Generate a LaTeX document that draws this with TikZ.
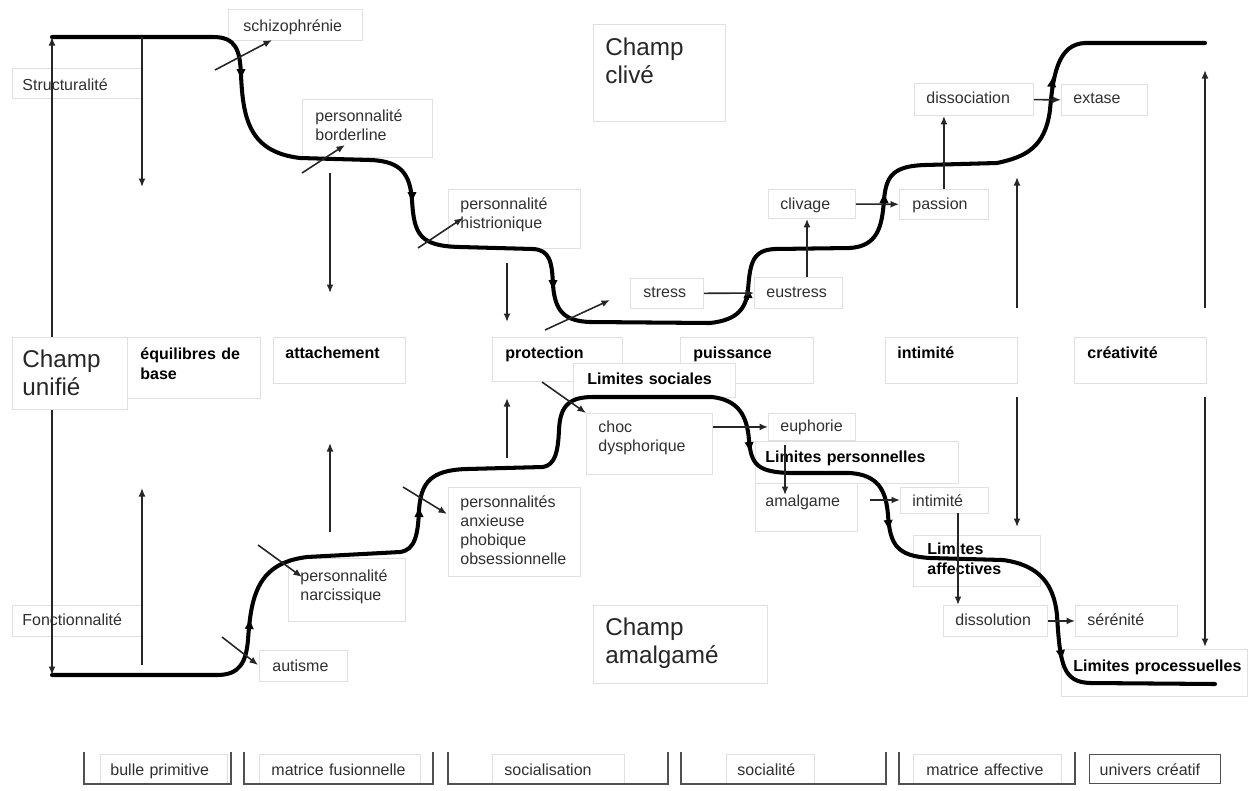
\documentclass[tikz,border=0pt]{standalone}
\usepackage{fontspec}
\setmainfont{Liberation Sans}
\usetikzlibrary{arrows.meta}
\hyphenpenalty=10000
\exhyphenpenalty=10000
\definecolor{edgegray}{HTML}{E0E0E0}
\definecolor{inkgray}{HTML}{303030}
\definecolor{framegray}{HTML}{505050}
\tikzset{
    labelbox/.style={rectangle, draw=edgegray, line width=0.5pt, fill=white, anchor=north west, inner ysep=0pt, align=left, text=inkgray, font=\fontsize{9.1}{10.8}\selectfont},
    boldbox/.style={labelbox, text=black, font=\fontsize{9.1}{11.2}\selectfont\bfseries},
    fieldbox/.style={labelbox, text=black!85, font=\fontsize{13.8}{15.9}\selectfont},
    geom/.style n args={4}{minimum width=#1*0.2mm, minimum height=#2*0.2mm, inner xsep=#3*0.2mm, text width=(#1-2*#3)*0.2mm, text height=#4*0.2mm, text depth=(#2-#4)*0.2mm},
    link/.style={draw=black!85, line width=0.9pt, -{Latex[length=1.7mm, width=1.4mm]}},
    trail/.style={draw=black, line width=2.3pt, line cap=round, line join=round},
    trailtip/.style={draw=black, line width=1pt, -{Latex[length=2.2mm, width=1.9mm]}},
    bracket/.style={draw=framegray, line width=1pt}
}

\begin{document}
\begin{tikzpicture}[x=0.2mm, y=-0.2mm]
\useasboundingbox (0,0) rectangle (1254,790);

% Champ clive (upper half)
\node (schizo) [labelbox, geom={134}{31}{15}{22}] at (228,9) {schizophrénie};
\node (structure) [labelbox, geom={130}{30}{10}{22}] at (12,68) {Structuralité};
\node (borderline) [labelbox, geom={130}{58}{13}{22}] at (302,99) {personnalité\\borderline};
\node (histrio) [labelbox, geom={132}{59}{12}{20}] at (448,189) {personnalité\\histrionique};
\node (clive) [fieldbox, geom={132}{97}{12}{31}] at (593,24) {Champ\\clivé};
\node (stress) [labelbox, geom={73}{30}{13}{19}] at (630,278) {stress};
\node (eustress) [labelbox, geom={88}{31}{12}{20}] at (754,277) {eustress};
\node (clivage) [labelbox, geom={87}{29}{12}{20}] at (768,189) {clivage};
\node (passion) [labelbox, geom={89}{30}{13}{20}] at (899,189) {passion};
\node (dissoc) [labelbox, geom={119}{32}{12}{20}] at (914,83) {dissociation};
\node (extase) [labelbox, geom={86}{31}{12}{19}] at (1061,84) {extase};

% Middle row: stages
\node (equil) [boldbox, geom={133}{61}{13}{22}] at (127,337) {équilibres~de\\base};
\node (unifie) [fieldbox, geom={115}{72}{10}{30}] at (12,337) {Champ\\unifié};
\node (attach) [boldbox, geom={132}{46}{12}{21}] at (273,337) {attachement};
\node (protect) [boldbox, geom={130}{44}{13}{21}] at (492,337) {protection};
\node (puiss) [boldbox, geom={133}{46}{13}{21}] at (680,337) {puissance};
\node (limsoc) [boldbox, geom={162}{34}{14}{21}] at (573,363) {Limites~sociales};
\node (intimb) [boldbox, geom={132}{46}{12}{21}] at (885,337) {intimité};
\node (creat) [boldbox, geom={132}{46}{13}{21}] at (1074,337) {créativité};

% Champ amalgame (lower half)
\node (choc) [labelbox, geom={126}{61}{12}{19}] at (586,413) {choc\\dysphorique};
\node (limpers) [boldbox, geom={203}{42}{10}{21}] at (755,441) {Limites~personnelles};
\node (amalg) [labelbox, geom={102}{48}{10}{23}] at (755,483) {amalgame};
\node (euph) [labelbox, geom={87}{27}{12}{18}] at (768,413) {euphorie};
\node (intims) [labelbox, geom={88}{26}{12}{19}] at (900,487) {intimité};
\node (limaff) [boldbox, geom={127}{51}{14}{19}] at (913,535) {Limites\\affectives};
\node (dissol) [labelbox, geom={104}{31}{12}{20}] at (943,605) {dissolution};
\node (seren) [labelbox, geom={102}{31}{12}{20}] at (1075,605) {sérénité};
\node (limproc) [boldbox, geom={186}{47}{12}{22}] at (1061,649) {Limites~processuelles};
\node (narc) [labelbox, geom={117}{63}{12}{23}] at (288,558) {personnalité\\narcissique};
\node (anx) [labelbox, geom={132}{89}{12}{20}] at (448,487) {personnalités\\anxieuse\\phobique\\obsessionnelle};
\node (amalgch) [fieldbox, geom={174}{78}{12}{30}] at (593,605) {Champ\\amalgamé};
\node (autism) [labelbox, geom={88}{31}{13}{21}] at (259,650) {autisme};
\node (fonct) [labelbox, geom={130}{31}{10}{20}] at (12,605) {Fonctionnalité};

% Phases along the bottom
\node (bulle) [labelbox, geom={127}{29}{10}{21}] at (100,754) {bulle~primitive};
\node (fusion) [labelbox, geom={161}{29}{12}{21}] at (259,754) {matrice~fusionnelle};
\node (social) [labelbox, geom={132}{29}{12}{21}] at (492,754) {socialisation};
\node (socialite) [labelbox, geom={88}{29}{11}{21}] at (726,754) {socialité};
\node (affect) [labelbox, geom={148}{29}{13}{21}] at (913,754) {matrice~affective};
\node (creatif) [labelbox, draw=framegray, line width=0.8pt, geom={131}{29}{10}{21}] at (1089,754) {univers~créatif};

\draw[bracket] (84,752) -- (84,784) -- (231,784) -- (231,752);
\draw[bracket] (244,752) -- (244,784) -- (433,784) -- (433,752);
\draw[bracket] (448,752) -- (448,784) -- (668,784) -- (668,752);
\draw[bracket] (681,752) -- (681,784) -- (886,784) -- (886,752);
\draw[bracket] (899,752) -- (899,784) -- (1075,784) -- (1075,752);

% Upper trail
\draw[trail] (52,37) -- (213,37)
    .. controls (236,37) and (240,50) .. (241,75)
    .. controls (243,120) and (250,152) .. (300,158)
    -- (370,160)
    .. controls (402,161) and (410,175) .. (412,200)
    .. controls (414,235) and (420,246) .. (460,247)
    -- (533,249)
    .. controls (550,250) and (552,262) .. (553,285)
    .. controls (555,312) and (565,321) .. (590,322)
    -- (710,323)
    .. controls (738,320) and (746,308) .. (748,290)
    .. controls (750,262) and (753,250) .. (775,249)
    -- (850,248)
    .. controls (877,246) and (882,228) .. (884,200)
    .. controls (886,176) and (893,166) .. (925,165)
    -- (997,163)
    .. controls (1025,157) and (1045,148) .. (1050,110)
    .. controls (1053,75) and (1058,44) .. (1085,43)
    -- (1205,43);
\draw[trailtip] (241,66) -- (241,80);
\draw[trailtip] (412,190) -- (412,203);
\draw[trailtip] (553,278) -- (553,291);
\draw[trailtip] (748,300) -- (748,287);
\draw[trailtip] (884,206) -- (884,192);
\draw[trailtip] (1051,92) -- (1053,76);

% Lower trail
\draw[trail] (52,675) -- (217,675)
    .. controls (240,675) and (246,662) .. (248,640)
    .. controls (251,595) and (258,563) .. (307,557)
    -- (400,552)
    .. controls (415,550) and (418,535) .. (419,510)
    .. controls (421,483) and (430,470) .. (467,469)
    -- (543,467)
    .. controls (555,465) and (558,452) .. (559,430)
    .. controls (560,405) and (570,397) .. (593,397)
    -- (712,397)
    .. controls (738,400) and (747,415) .. (749,440)
    .. controls (751,465) and (758,472) .. (790,473)
    -- (850,473)
    .. controls (878,475) and (886,490) .. (888,515)
    .. controls (890,545) and (897,556) .. (930,558)
    -- (1003,560)
    .. controls (1040,565) and (1054,585) .. (1057,615)
    .. controls (1060,665) and (1063,682) .. (1090,683)
    -- (1215,684);
\draw[trailtip] (249,632) -- (250,618);
\draw[trailtip] (419,520) -- (419,506);
\draw[trailtip] (749,440) -- (750,453);
\draw[trailtip] (888,518) -- (889,531);
\draw[trailtip] (1060,647) -- (1062,661);

% Free ends of the arrows
\coordinate (topleft) at (52,37);
\coordinate (botleft) at (52,675);
\coordinate (eq-a) at (142,37);    \coordinate (eq-b) at (142,187);
\coordinate (eq-c) at (142,665);   \coordinate (eq-d) at (142,488);
\coordinate (at-a) at (330,173);   \coordinate (at-b) at (330,293);
\coordinate (at-c) at (330,532);   \coordinate (at-d) at (330,443);
\coordinate (pr-a) at (507,263);   \coordinate (pr-b) at (507,322);
\coordinate (pr-c) at (507,458);   \coordinate (pr-d) at (507,398);
\coordinate (in-a) at (1017,308);  \coordinate (in-b) at (1017,177);
\coordinate (in-c) at (1017,397);  \coordinate (in-d) at (1017,527);
\coordinate (cr-a) at (1205,308);  \coordinate (cr-b) at (1205,70);
\coordinate (cr-c) at (1205,397);  \coordinate (cr-d) at (1205,647);
\coordinate (sz-a) at (215,70);    \coordinate (sz-b) at (272,40);
\coordinate (bd-a) at (302,173);   \coordinate (bd-b) at (345,145);
\coordinate (hi-a) at (418,248);   \coordinate (hi-b) at (463,218);
\coordinate (st-a) at (545,330);   \coordinate (st-b) at (610,300);
\coordinate (ch-a) at (542,382);
\coordinate (ax-a) at (403,487);   \coordinate (ax-b) at (447,514);
\coordinate (nc-a) at (258,545);   \coordinate (nc-b) at (302,577);
\coordinate (au-a) at (222,637);   \coordinate (au-b) at (258,665);
\coordinate (eu-up) at (807,277);
\coordinate (eu-am) at (785,445);  \coordinate (eu-am2) at (785,495);
\coordinate (am-in) at (870,500);
\coordinate (in-ds) at (958,513);

% Arrows
\draw[link] (unifie.north -| topleft) -- (topleft);
\draw[link] (unifie.south -| botleft) -- (botleft);
\draw[link] (eq-a) -- (eq-b);
\draw[link] (eq-c) -- (eq-d);
\draw[link] (at-a) -- (at-b);
\draw[link] (at-c) -- (at-d);
\draw[link] (pr-a) -- (pr-b);
\draw[link] (pr-c) -- (pr-d);
\draw[link] (in-a) -- (in-b);
\draw[link] (in-c) -- (in-d);
\draw[link] (cr-a) -- (cr-b);
\draw[link] (cr-c) -- (cr-d);

\draw[link] (sz-a) -- (sz-b);
\draw[link] (bd-a) -- (bd-b);
\draw[link] (hi-a) -- (hi-b);
\draw[link] (st-a) -- (st-b);
\draw[link] (ch-a) -- (choc.north west);
\draw[link] (ax-a) -- (ax-b);
\draw[link] (nc-a) -- (nc-b);
\draw[link] (au-a) -- (au-b);

\draw[link] (stress) -- (eustress);
\draw[link] (eu-up) -- (eu-up |- clivage.south);
\draw[link] (clivage) -- (passion);
\draw[link] (passion.north) -- (passion.north |- dissoc.south);
\draw[link] (dissoc) -- (extase);
\draw[link] (choc.east |- euph) -- (euph);
\draw[link] (eu-am) -- (eu-am2);
\draw[link] (am-in) -- (am-in -| intims.west);
\draw[link] (in-ds) -- (in-ds |- dissol.north);
\draw[link] (dissol) -- (seren);

\end{tikzpicture}
\end{document}
